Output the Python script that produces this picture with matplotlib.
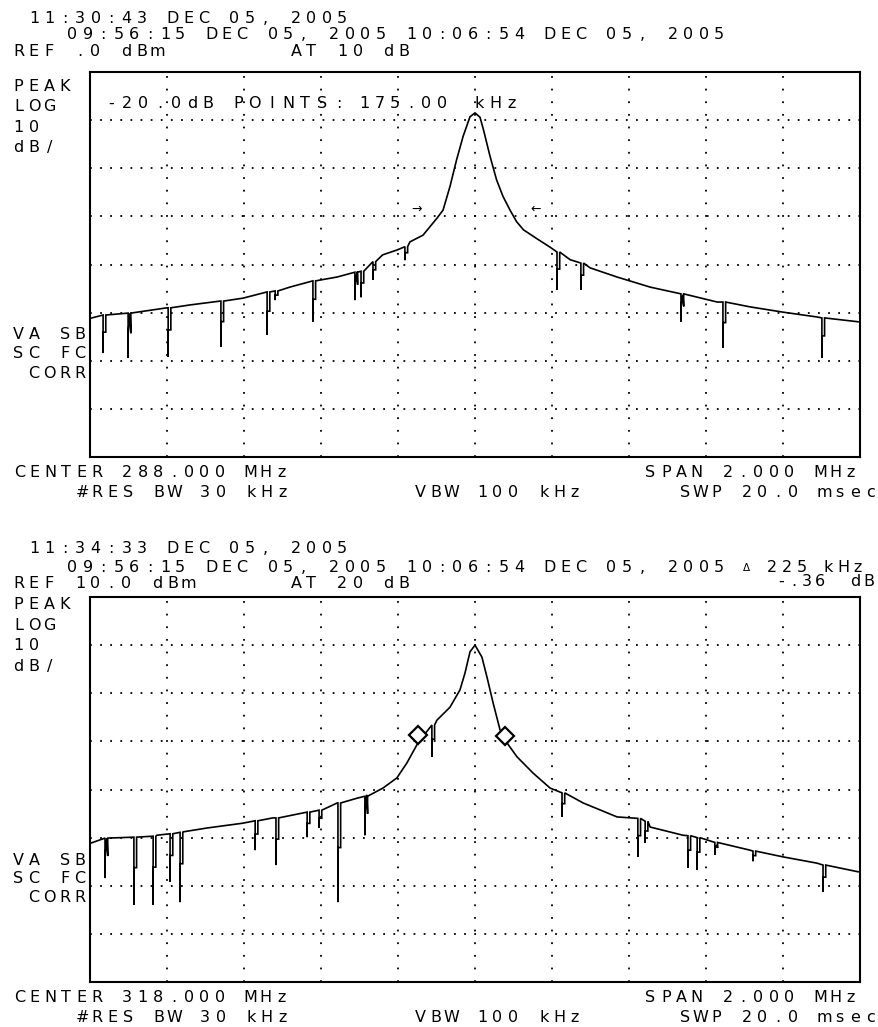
import matplotlib
matplotlib.use("Agg")
import matplotlib.pyplot as plt
import numpy as np

W, H = 879, 1027

# ---------------- data: panel 1 (CENTER 288 MHz, REF 0 dBm) ----------------
p1_span = (287.0, 289.0)
p1_ref = (-80.0, 0.0)
p1_env_freq = [287.000, 287.034, 287.104, 287.200, 287.260, 287.338, 287.397,
               287.460, 287.519, 287.579, 287.642, 287.694, 287.735, 287.760,
               287.797, 287.831, 287.865, 287.901, 287.917, 287.935, 287.952,
               287.969, 287.987, 288.000, 288.013, 288.022, 288.039, 288.056,
               288.073, 288.091, 288.108, 288.126, 288.160, 288.195, 288.247,
               288.299, 288.369, 288.455, 288.540, 288.629, 288.714, 288.800,
               288.888, 288.995]
p1_env_dbm = [-51.2, -50.5, -50.1, -49.0, -48.4, -47.6, -47.0,
              -45.7, -44.7, -43.4, -42.6, -41.5, -39.4, -38.0,
              -37.0, -35.3, -33.9, -30.4, -28.7, -23.8, -18.3,
              -13.4, -9.3, -8.5, -9.4, -12.0, -17.5, -22.4,
              -25.9, -28.7, -31.1, -32.8, -34.6, -36.4, -39.0,
              -40.7, -42.6, -44.7, -46.3, -47.8, -48.8, -49.9,
              -50.9, -51.9]
p1_spur_freq = [287.034, 287.099, 287.203, 287.340, 287.460, 287.481, 287.579,
                287.688, 287.704, 287.735, 287.818, 288.213, 288.275, 288.535,
                288.644, 288.901]
p1_spur_top = [-50.5, -50.1, -49.0, -47.6, -45.7, -45.5, -43.4,
               -41.6, -41.4, -39.4, -36.3, -37.4, -39.7, -46.1,
               -47.8, -51.1]
p1_spur_bottom = [-58.4, -59.4, -59.2, -57.1, -54.6, -47.4, -51.9,
                  -47.4, -46.8, -43.2, -39.1, -45.3, -45.3, -51.9,
                  -57.3, -59.4]
p1_arrow_freq = [287.847, 288.158]
p1_arrow_dbm = [-28.5, -28.5]

# ---------------- data: panel 2 (CENTER 318 MHz, REF 10 dBm) ----------------
p2_span = (317.0, 319.0)
p2_ref = (-70.0, 10.0)
p2_env_freq = [317.000, 317.044, 317.112, 317.174, 317.242, 317.304, 317.397,
               317.475, 317.564, 317.642, 317.694, 317.719, 317.761, 317.797,
               317.823, 317.852, 317.901, 317.935, 317.961, 317.974, 317.987,
               318.000, 318.018, 318.031, 318.047, 318.065, 318.083, 318.109,
               318.151, 318.195, 318.281, 318.369, 318.455, 318.540, 318.629,
               318.714, 318.800, 318.888, 318.995]
p2_env_dbm = [-41.2, -40.1, -39.9, -39.5, -38.8, -38.0, -37.0,
              -35.9, -34.7, -32.8, -31.8, -31.1, -29.7, -27.6,
              -24.5, -20.3, -15.6, -12.9, -9.3, -5.8, -1.4,
              0.0, -2.5, -6.6, -12.0, -17.6, -20.3, -23.2,
              -26.6, -29.7, -32.8, -35.7, -37.8, -39.5, -41.5,
              -42.6, -44.0, -45.3, -47.1]
p2_spur_freq = [317.039, 317.114, 317.164, 317.208, 317.234, 317.429, 317.483,
                317.564, 317.595, 317.644, 317.714, 317.888, 318.226, 318.423,
                318.442, 318.553, 318.577, 318.623, 318.722, 318.904]
p2_spur_top = [-40.1, -39.9, -39.7, -39.2, -38.9, -36.5, -35.9,
               -34.7, -34.3, -32.8, -31.4, -16.6, -30.7, -36.0,
               -36.6, -39.6, -40.0, -41.0, -42.8, -45.7]
p2_spur_bottom = [-48.4, -54.0, -54.0, -49.2, -53.4, -42.6, -45.7,
                  -39.9, -38.0, -53.4, -39.5, -23.2, -35.7, -44.0,
                  -41.1, -46.3, -46.7, -43.6, -44.9, -51.3]
p2_marker_freq = [317.852, 318.078]
p2_marker_dbm = [-18.7, -18.9]

# ---------------- annotation texts ----------------
p1_time = "11:30:43 DEC 05, 2005"
p1_stamp = "09:56:15 DEC 05, 2005 10:06:54 DEC 05, 2005"
p1_ref_txt = "REF .0 dBm"
p1_att_txt = "AT 10 dB"
p1_center_txt = "CENTER 288.000 MHz"
p1_points_txt = ["-20.0dB", "POINTS:", "175.00", "kHz"]

p2_time = "11:34:33 DEC 05, 2005"
p2_stamp = "09:56:15 DEC 05, 2005 10:06:54 DEC 05, 2005"
p2_ref_txt = "REF 10.0 dBm"
p2_att_txt = "AT 20 dB"
p2_center_txt = "CENTER 318.000 MHz"
p2_delta_txt = ["\u0394", "225", "kHz", "-.36", "dB"]

mode_txt = ["PEAK", "LOG", "10", "dB/"]
corr_txt = ["VA SB", "SC FC", " CORR"]
resbw_txt = "#RES BW 30 kHz"
vbw_txt = "VBW 100 kHz"
span_txt = "SPAN 2.000 MHz"
swp_txt = "SWP 20.0 msec"

FONT = "DejaVu Sans"
FS = 11.5
PITCH = 15.4
CAP = 11.5

fig = plt.figure(figsize=(W / 100, H / 100), dpi=100)
fig.patch.set_facecolor("white")


def hp_text(s, x, yc, pitch=PITCH, size=FS):
    """Instrument-style fixed pitch text; x = centre of first cell, yc = cap centre (pixels)."""
    yb = yc + CAP / 2.0 * size / FS
    for i, ch in enumerate(s):
        if ch.strip():
            fig.text((x + i * pitch) / W, 1 - yb / H, ch, ha="center", va="baseline",
                     fontsize=size, family=FONT, color="black")


def build_trace(env_f, env_d, sp_f, sp_top, sp_bot, width=0.007):
    # each spur: drop to its floor, come back part way, step over, rise to the trace
    pts = [(f, 0, d) for f, d in zip(env_f, env_d)]
    for f, t, b in zip(sp_f, sp_top, sp_bot):
        m = t + 0.45 * (b - t)
        pts += [(f, 1, t), (f, 2, b), (f, 3, m), (f + width, 4, m), (f + width, 5, t)]
    pts.sort(key=lambda p: (p[0], p[1]))
    return np.array([p[0] for p in pts]), np.array([p[2] for p in pts])


def make_panel(top_px, span, ref):
    left, right, bottom = 90, 860, top_px + 385
    ax = fig.add_axes([left / W, 1 - bottom / H, (right - left) / W, 385 / H])
    ax.set_xlim(*span)
    ax.set_ylim(*ref)
    ax.set_xticks(np.linspace(span[0], span[1], 11)[1:-1])
    ax.set_yticks(np.linspace(ref[0], ref[1], 9)[1:-1])
    ax.tick_params(length=0, labelbottom=False, labelleft=False)
    ax.xaxis.grid(True, color="black", lw=1.3, ls=(0, (1.0, 6.0)))
    ax.yaxis.grid(True, color="black", lw=1.3, ls=(0, (1.0, 4.6)))
    for sp in ax.spines.values():
        sp.set_linewidth(1.5)
        sp.set_color("black")
    ax.set_facecolor("white")
    return ax


# ---------------- panel 1 ----------------
ax1 = make_panel(72, p1_span, p1_ref)
fx, fy = build_trace(p1_env_freq, p1_env_dbm, p1_spur_freq, p1_spur_top, p1_spur_bottom)
ax1.plot(fx, fy, color="black", lw=1.2, solid_joinstyle="miter")
for f, d, a in zip(p1_arrow_freq, p1_arrow_dbm, ["\u2192", "\u2190"]):
    ax1.text(f, d, a, ha="center", va="center", fontsize=9, family=FONT)

hp_text(p1_time, 34, 17)
hp_text(p1_stamp, 72.5, 33)
hp_text(p1_ref_txt, 18.5, 50)
hp_text(p1_att_txt, 296, 50)
for s, y in zip(mode_txt, [85, 105.5, 126, 146]):
    hp_text(s, 18.5, y)
for s, y in zip(corr_txt, [333.5, 352.5, 372]):
    hp_text(s, 18.5, y)
hp_text(p1_center_txt, 19.5, 471)
hp_text(resbw_txt, 82, 491.5)
hp_text(vbw_txt, 420.5, 491.5)
hp_text(span_txt, 650.5, 471)
hp_text(swp_txt, 685.5, 491.5)
for s, x, p in zip(p1_points_txt, [111, 238, 364, 479], [16.2, 16.8, 15.6, 16.5]):
    hp_text(s, x, 102.5, pitch=p)

# ---------------- panel 2 ----------------
ax2 = make_panel(597, p2_span, p2_ref)
fx, fy = build_trace(p2_env_freq, p2_env_dbm, p2_spur_freq, p2_spur_top, p2_spur_bottom)
ax2.plot(fx, fy, color="black", lw=1.2, solid_joinstyle="miter")
ax2.plot(p2_marker_freq, p2_marker_dbm, ls="none", marker="D", markersize=9,
         markerfacecolor="white", markeredgecolor="black", markeredgewidth=1.6)

hp_text(p2_time, 34, 547.5)
hp_text(p2_stamp, 72.5, 566)
hp_text(p2_ref_txt, 18.5, 582.5)
hp_text(p2_att_txt, 296, 582.5)
hp_text(p2_delta_txt[0], 746, 567, size=7.5)
hp_text(p2_delta_txt[1], 772, 566, pitch=15)
hp_text(p2_delta_txt[2], 828, 566, pitch=15)
hp_text(p2_delta_txt[3], 781, 580, pitch=13)
hp_text(p2_delta_txt[4], 855, 580, pitch=13.5)
for s, y in zip(mode_txt, [603.5, 624, 644.5, 665]):
    hp_text(s, 18.5, y)
for s, y in zip(corr_txt, [859, 877.5, 896]):
    hp_text(s, 18.5, y)
hp_text(p2_center_txt, 19.5, 996.5)
hp_text(resbw_txt, 82, 1016)
hp_text(vbw_txt, 420.5, 1016)
hp_text(span_txt, 650.5, 996.5)
hp_text(swp_txt, 685.5, 1016)

fig.savefig("out.png", dpi=100, facecolor="white")
